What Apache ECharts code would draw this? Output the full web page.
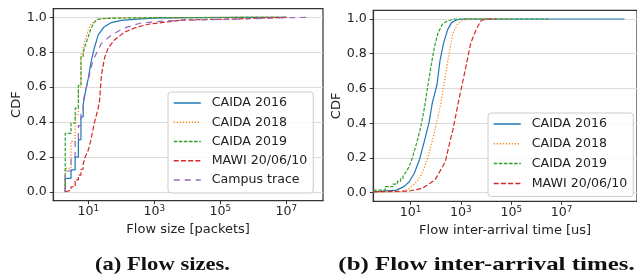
<!DOCTYPE html>
<html>
<head>
<meta charset="utf-8">
<script src="https://cdn.jsdelivr.net/npm/echarts@6/dist/echarts.min.js"></script>
<style>
html,body{margin:0;padding:0;background:#fff;}
#c{width:637px;height:277px;}
</style>
</head>
<body>
<div id="c"></div>
<script>
// ---------- (a) Flow sizes [packets] ----------
const sizeSeriesNames = ['CAIDA 2016', 'CAIDA 2018', 'CAIDA 2019', 'MAWI 20/06/10', 'Campus trace'];
const caida2016SizeX = [2,2,3,3,4,4,5,5,6,6,7,7,8,8,9,9,10,10,12,15,20,30,50,100,300,1000,1e4,1e6,1e7];
const caida2016SizeY = [0,.078,.078,.126,.126,.2,.2,.3,.3,.43,.43,.5,.5,.565,.565,.61,.61,.65,.74,.82,.9,.945,.97,.983,.99,.995,.998,.9995,1];
const caida2018SizeX = [2,2,3,3,4,4,5,5,6,6,7,7,8,8,9,9,10,10,12,15,20,30,100,1e4,1e7];
const caida2018SizeY = [0,.135,.135,.29,.29,.44,.44,.6,.6,.79,.79,.83,.83,.87,.87,.9,.9,.93,.96,.975,.99,.994,.997,.999,1];
const caida2019SizeX = [2,2,3,3,4,4,5,5,6,6,7,7,8,8,9,9,10,10,12,15,18,22,30,100,1000,1e5,1e7];
const caida2019SizeY = [0,.335,.335,.395,.395,.48,.48,.61,.61,.775,.775,.8,.8,.835,.835,.865,.865,.89,.935,.97,.985,.99,.993,.996,.998,.999,1];
const mawiSizeX = [2,2,3,3,4,4,5,5,6,6,7,7,8,8,9,9,10,10,12,15,20,22,25,31,40,63,127,300,740,7400,2.4e5,1e7];
const mawiSizeY = [0,.011,.011,.03,.03,.069,.069,.097,.097,.13,.13,.16,.16,.2,.2,.22,.22,.24,.298,.39,.48,.527,.67,.767,.824,.872,.916,.945,.962,.985,.99,1];
const campusSizeX = [2,2,3,3,4,4,5,5,6,6,7,7,8,8,9,9,10,10,14,25,51,115,370,2400,2.4e5,4.2e7];
const campusSizeY = [0,.12,.12,.2,.2,.3,.3,.38,.38,.46,.46,.52,.52,.57,.57,.61,.61,.645,.756,.851,.899,.937,.966,.98,.99,1];

// ---------- (b) Flow inter-arrival times [us] ----------
const iatSeriesNames = ['CAIDA 2016', 'CAIDA 2018', 'CAIDA 2019', 'MAWI 20/06/10'];
const caida2016IatX = [0.33,2.75,5.5,8.9,14.1,22.4,36.3,53.7,74.1,112,148,209,302,427,676,1230,3.2e9];
const caida2016IatY = [.005,.015,.035,.063,.112,.188,.303,.40,.52,.62,.76,.865,.94,.979,.994,1,1];
const caida2018IatX = [0.33,5.5,8.9,17.8,28.8,45.7,74.1,93.3,148,240,339,479,759,1230,2512,1e5];
const caida2018IatY = [.003,.006,.025,.063,.112,.188,.30,.36,.49,.668,.80,.918,.975,.994,1,1];
const caida2019IatX = [0.33,1,1,2,2,3,3,4,4,5,5,6,6,7,7,8,8,9,9,10,12.6,17.8,25.7,36.3,47.9,64.6,89,123,186,302,603,3e6];
const caida2019IatY = [.015,.015,.035,.035,.05,.05,.065,.065,.08,.08,.095,.095,.11,.11,.125,.125,.14,.14,.155,.17,.215,.29,.38,.495,.61,.725,.84,.918,.971,.99,1,1];
const mawiIatX = [0.33,0.85,8.9,28.8,93.3,240,380,479,832,1585,2455,3981,6310,10233,25000];
const mawiIatY = [.005,.006,.01,.025,.073,.178,.303,.36,.534,.725,.86,.937,.99,1,1];

// tick labels
const xTickExponents = [1, 3, 5, 7];
const yTicks = [0, 0.2, 0.4, 0.6, 0.8, 1.0];

const colors = ['#1f77b4', '#ff7f0e', '#2ca02c', '#d62728', '#9467bd'];
const dashes = ['solid', [1.2, 1.8], [3.5, 1.6], [5, 2.2], [6, 5]];
const FONT = 'DejaVu Sans';

function pairs(xs, ys) {
  return xs.map((x, i) => [Math.log10(x), ys[i]]);
}

const sizeData = [
  pairs(caida2016SizeX, caida2016SizeY),
  pairs(caida2018SizeX, caida2018SizeY),
  pairs(caida2019SizeX, caida2019SizeY),
  pairs(mawiSizeX, mawiSizeY),
  pairs(campusSizeX, campusSizeY)
];
const iatData = [
  pairs(caida2016IatX, caida2016IatY),
  pairs(caida2018IatX, caida2018IatY),
  pairs(caida2019IatX, caida2019IatY),
  pairs(mawiIatX, mawiIatY)
];

function xAxisCfg(gridIndex, min, max, name) {
  return {
    type: 'value', gridIndex, min, max, name,
    nameLocation: 'middle', nameGap: 21,
    nameTextStyle: { fontFamily: FONT, fontSize: 13, color: '#222' },
    axisLine: { show: true, onZero: false, lineStyle: { color: '#333', width: 1.2 } },
    axisTick: { show: true, inside: false, length: 3.5, customValues: xTickExponents, lineStyle: { color: '#333', width: 1 } },
    axisLabel: {
      customValues: xTickExponents, margin: 4,
      formatter: v => '{b|10}{s|' + v + '}',
      rich: {
        b: { fontFamily: FONT, fontSize: 12.6, color: '#222' },
        s: { fontFamily: FONT, fontSize: 8.8, color: '#222', verticalAlign: 'top', padding: [0, 0, 6, 0] }
      }
    },
    splitLine: { show: false }
  };
}
function yAxisCfg(gridIndex) {
  return {
    type: 'value', gridIndex, min: -0.05, max: 1.05, name: 'CDF',
    nameLocation: 'middle', nameGap: 30,
    nameTextStyle: { fontFamily: FONT, fontSize: 13, color: '#222' },
    axisLine: { show: true, onZero: false, lineStyle: { color: '#333', width: 1.2 } },
    axisTick: { show: true, inside: false, length: 3.5, customValues: yTicks, lineStyle: { color: '#333', width: 1 } },
    axisLabel: { customValues: yTicks, margin: 6.5, formatter: v => v.toFixed(1), fontFamily: FONT, fontSize: 12.6, color: '#222' },
    splitLine: { show: true, lineStyle: { color: '#dcdcdc', width: 1 } }
  };
}

const series = [];
sizeData.forEach((d, i) => {
  series.push({
    name: sizeSeriesNames[i], type: 'line', xAxisIndex: 0, yAxisIndex: 0,
    data: d, symbol: 'none', showSymbol: false, animation: false, z: 2 + i,
    lineStyle: { color: colors[i], width: 1.2, type: dashes[i] },
    itemStyle: { color: colors[i] }
  });
});
iatData.forEach((d, i) => {
  series.push({
    name: iatSeriesNames[i], type: 'line', xAxisIndex: 1, yAxisIndex: 1,
    data: d, symbol: 'none', showSymbol: false, animation: false, z: 2 + i,
    lineStyle: { color: colors[i], width: 1.2, type: dashes[i] },
    itemStyle: { color: colors[i] }
  });
});

function legendCfg(left, top, names, gap) {
  return {
    left, top, orient: 'vertical', data: names,
    padding: [4, 6, 6, 5], itemWidth: 27, itemHeight: 14, itemGap: gap,
    itemStyle: { opacity: 0 },
    lineStyle: { width: 1.5 },
    textStyle: { fontFamily: FONT, fontSize: 12.6, color: '#222', padding: [0, 0, 0, 6], lineHeight: 14 },
    borderColor: '#cccccc', borderWidth: 1, borderRadius: 3,
    backgroundColor: 'rgba(255,255,255,0.85)', z: 20
  };
}

const chart = echarts.init(document.getElementById('c'), null, { renderer: 'canvas' });
chart.setOption({
  animation: false,
  backgroundColor: '#fff',
  grid: [
    { left: 53.3, top: 8.6, width: 269.7, height: 192.1, show: true, borderColor: '#333', borderWidth: 1.2, backgroundColor: 'transparent' },
    { left: 373.3, top: 10.3, width: 342.7, height: 191.1, show: true, borderColor: '#333', borderWidth: 1.2, backgroundColor: 'transparent' }
  ],
  xAxis: [
    xAxisCfg(0, -0.06, 8.11, 'Flow size [packets]'),
    xAxisCfg(1, -0.48, 10, 'Flow inter-arrival time [us]')
  ],
  yAxis: [yAxisCfg(0), yAxisCfg(1)],
  legend: [
    legendCfg(168, 92, sizeSeriesNames, 5.25),
    legendCfg(488, 113, iatSeriesNames, 5.8)
  ],
  series,
  graphic: [
    { type: 'text', x: 162.5, y: 265, scaleX: 1.19, z: 50,
      style: { text: '(a) Flow sizes.', fontFamily: 'Liberation Serif', fontWeight: 'bold', fontSize: 19, fill: '#111', align: 'center', verticalAlign: 'middle' } },
    { type: 'text', x: 486.5, y: 265, scaleX: 1.31, z: 50,
      style: { text: '(b) Flow inter-arrival times.', fontFamily: 'Liberation Serif', fontWeight: 'bold', fontSize: 19, fill: '#111', align: 'center', verticalAlign: 'middle' } }
  ]
});
</script>
</body>
</html>
